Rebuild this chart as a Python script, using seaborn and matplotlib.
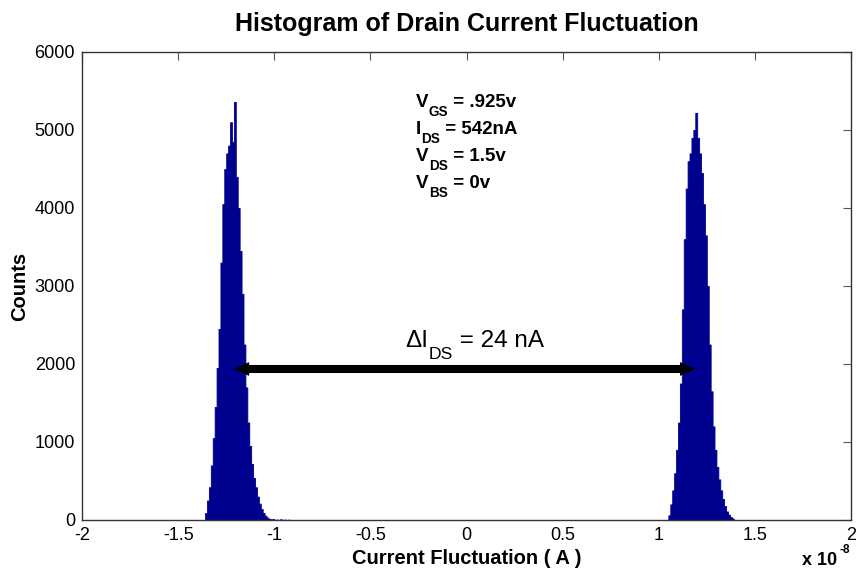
import numpy as np
import pandas as pd
import matplotlib
matplotlib.use("Agg")
import matplotlib.pyplot as plt
import seaborn as sns

# Histogram bins (current in units of 1e-8 A, bin width 0.01)
bin_width = 0.01
left_first_center = -1.355
left_counts = [90, 250, 420, 700, 1050, 1450, 1950, 2450, 3300, 4050,
               4500, 4700, 4800, 5100, 4850, 5360, 4400, 4000, 3450, 2900,
               2250, 1700, 1250, 950, 720, 540, 420, 300, 210, 140,
               90, 55, 30, 15, 8, 12, 0, 6, 0, 9, 0, 5, 0, 4]
right_first_center = 1.055
right_counts = [60, 200, 380, 600, 900, 1250, 1750, 2700, 3600, 4250,
                4600, 4700, 4900, 5000, 5220, 4900, 4700, 4450, 4050, 3650,
                3000, 2250, 1650, 1200, 900, 680, 520, 380, 270, 180,
                110, 70, 40, 20]

# Double arrow between the two peaks: 24 nA = 2.4 x 1e-8 A
arrow_left = -1.21
arrow_span = 2.4
arrow_count = 1936

x_ticks = [-2, -1.5, -1, -0.5, 0, 0.5, 1, 1.5, 2]
x_tick_labels = ["-2", "-1.5", "-1", "-0.5", "0", "0.5", "1", "1.5", "2"]
y_ticks = [0, 1000, 2000, 3000, 4000, 5000, 6000]

bias_lines = [("V", "GS", " = .925v"),
              ("I", "DS", " = 542nA"),
              ("V", "DS", " = 1.5v"),
              ("V", "BS", " = 0v")]
bias_baselines = [5295, 4949, 4603, 4256]

sns.set_theme(style="white")
plt.rcParams["font.family"] = ["Liberation Sans", "DejaVu Sans"]
plt.rcParams["axes.unicode_minus"] = False
plt.rcParams["text.color"] = "black"
plt.rcParams["axes.labelcolor"] = "black"

bar_color = "#00008F"

centers = np.concatenate([
    left_first_center + bin_width * np.arange(len(left_counts)),
    right_first_center + bin_width * np.arange(len(right_counts)),
])
counts = np.concatenate([left_counts, right_counts])
df = pd.DataFrame({"current": centers, "count": counts})

fig = plt.figure(figsize=(8.56, 5.72), dpi=100)
ax = fig.add_axes([82 / 856, 52 / 572, (851 - 82) / 856, (520 - 52) / 572])

sns.histplot(data=df, x="current", weights="count", binwidth=bin_width,
             binrange=(-1.36, 1.40), element="step", fill=True,
             color=bar_color, edgecolor=bar_color, linewidth=0.6,
             alpha=1.0, ax=ax)

ax.set_xlim(-2, 2)
ax.set_ylim(0, 6000)
ax.set_xticks(x_ticks)
ax.set_xticklabels(x_tick_labels)
ax.set_yticks(y_ticks)
ax.tick_params(direction="in", length=6, width=0.8, color="#555555",
               labelsize=13, pad=5, top=True, right=True,
               labelcolor="black")
for side in ax.spines.values():
    side.set_visible(True)
    side.set_color("#333333")
    side.set_linewidth(1.0)
    side.set_zorder(5)

ax.set_title("Histogram of Drain Current Fluctuation", fontsize=18,
             fontweight="bold", pad=15, color="black")
ax.set_xlabel("Current Fluctuation ( A )", fontsize=14.5,
              fontweight="bold", labelpad=4)
ax.set_ylabel("Counts", fontsize=14.5, fontweight="bold", labelpad=4)

arrow_right = arrow_left + arrow_span
# filled heads
ax.annotate("", xy=(arrow_left, arrow_count), xytext=(arrow_right, arrow_count),
            arrowprops=dict(arrowstyle="<|-|>,head_length=1.1,head_width=0.5",
                            lw=0, color="black", shrinkA=0, shrinkB=0,
                            mutation_scale=10))
# thick shaft
ax.annotate("", xy=(arrow_left, arrow_count), xytext=(arrow_right, arrow_count),
            arrowprops=dict(arrowstyle="-", lw=5.8, color="black",
                            shrinkA=7, shrinkB=7, capstyle="butt"))


def subscripted(x, y, main, sub, rest, size, weight, drop):
    t1 = ax.text(x, y, main, fontsize=size, fontweight=weight,
                 va="baseline", ha="left")
    t2 = ax.annotate(sub, xy=(1, 0), xycoords=t1, xytext=(0.5, -drop),
                     textcoords="offset points", fontsize=size * 0.72,
                     fontweight=weight, va="bottom", ha="left")
    ax.annotate(rest, xy=(1, 0), xycoords=(t2, t1), fontsize=size,
                fontweight=weight, va="bottom", ha="left")


for (main, sub, rest), yb in zip(bias_lines, bias_baselines):
    subscripted(-0.265, yb, main, sub, rest, 13.5, "bold", 6)

subscripted(-0.32, 2222, "\u0394I", "DS", " = 24 nA", 17.5, "normal", 7.5)

fig.text(802 / 856, 1 - 565 / 572, "x 10", fontsize=13, fontweight="bold",
         va="baseline", ha="left")
fig.text(839 / 856, 1 - 553 / 572, "-8", fontsize=8.5, fontweight="bold",
         va="baseline", ha="left")

fig.savefig("out.png", dpi=100)
